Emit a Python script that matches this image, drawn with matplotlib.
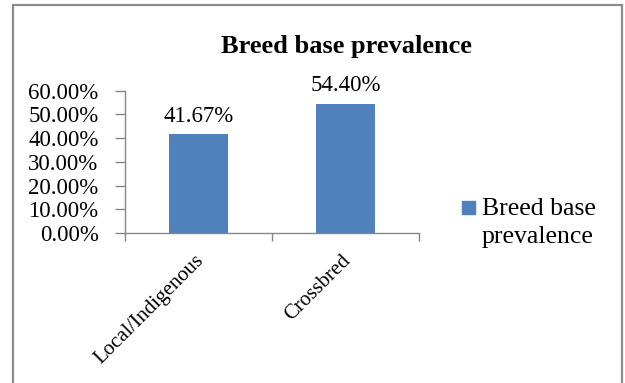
import matplotlib
matplotlib.use("Agg")
import matplotlib.pyplot as plt
from matplotlib.patches import Rectangle
from matplotlib.ticker import FuncFormatter, MultipleLocator

categories = ["Local/Indigenous", "Crossbred"]
values = [41.67, 54.40]
series_name = "Breed base prevalence"
title = "Breed base prevalence"

bar_color = "#4F81BD"
axis_color = "#868686"
plt.rcParams["font.family"] = ["Liberation Serif", "DejaVu Serif"]

W, H = 625, 383
fig = plt.figure(figsize=(W / 100, H / 100), dpi=100)

# outer chart frame
fig.patches.append(Rectangle((13 / W, -0.05), (622 - 13) / W, 1.05 - 5 / H,
                             transform=fig.transFigure, fill=False,
                             edgecolor="#8C8C8C", linewidth=1.6))

ax = fig.add_axes([125 / W, 1 - 233 / H, (419 - 125) / W, (233 - 90.7) / H])
x = list(range(len(categories)))
bars = ax.bar(x, values, width=0.4, color=bar_color, label=series_name)

ax.set_xlim(-0.5, len(categories) - 0.5)
ax.set_ylim(0, 60)
ax.yaxis.set_major_locator(MultipleLocator(10))
ax.yaxis.set_major_formatter(FuncFormatter(lambda v, p: f"{v:.2f}%"))

for s in ["top", "right"]:
    ax.spines[s].set_visible(False)
for s in ["left", "bottom"]:
    ax.spines[s].set_color(axis_color)
    ax.spines[s].set_linewidth(1.0)

ax.tick_params(axis="y", direction="out", length=7, width=1.0,
               color=axis_color, labelsize=16.5, pad=12)
# category boundary ticks on the x axis
ax.set_xticks([i - 0.5 for i in range(len(categories) + 1)])
ax.set_xticklabels([])
ax.tick_params(axis="x", direction="out", length=6, width=1.0, color=axis_color)
for i, c in enumerate(categories):
    ax.annotate(c, xy=(i - 0.03, 0), xycoords=("data", "axes fraction"),
                xytext=(0, -13), textcoords="offset points",
                rotation=45, ha="right", va="top", rotation_mode="anchor",
                fontsize=15)

for b, v in zip(bars, values):
    ax.annotate(f"{v:.2f}%", xy=(b.get_x() + b.get_width() / 2, v),
                xytext=(0, 9), textcoords="offset points",
                ha="center", va="baseline", fontsize=16.5)

fig.text(346.5 / W, 1 - 47 / H, title, ha="center", va="center",
         fontsize=19, fontweight="bold")

# legend
fig.patches.append(Rectangle((462 / W, 1 - 214 / H), 13 / W, 13 / H,
                             transform=fig.transFigure, color=bar_color))
fig.text(482 / W, 1 - 215 / H, "Breed base", ha="left", va="baseline", fontsize=18.5)
fig.text(482 / W, 1 - 243 / H, "prevalence", ha="left", va="baseline", fontsize=18.5)

fig.savefig("out.png", dpi=100, facecolor="white")
